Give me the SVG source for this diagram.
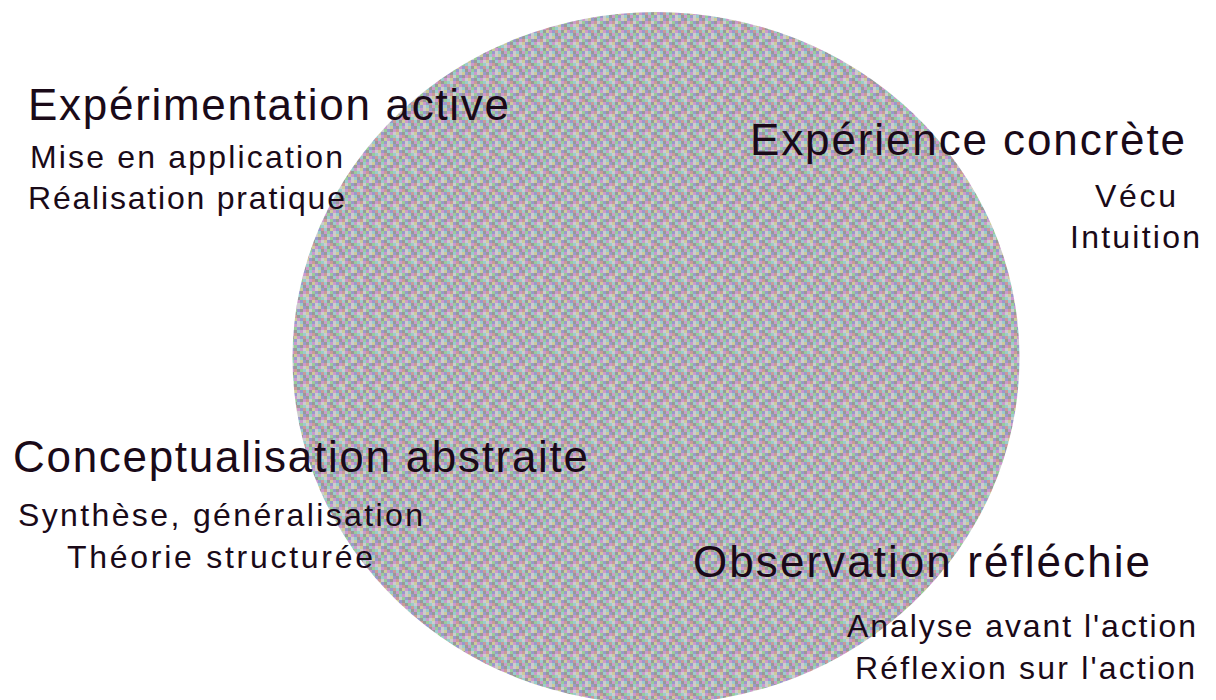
<svg xmlns="http://www.w3.org/2000/svg" width="1216" height="700" viewBox="0 0 1216 700">
<style>
.t{font-family:"Liberation Sans",Arial,sans-serif;fill:#1a0a18;}
.h{font-size:44px;}
.s{font-size:32px;}
</style>
<defs>
<pattern id="dither" width="18" height="18" patternUnits="userSpaceOnUse">
<rect width="18" height="18" fill="#b0b0b0"/>
<rect x="0" y="0" width="3" height="3" fill="#999999"/><rect x="3" y="0" width="3" height="3" fill="#99cccc"/><rect x="6" y="0" width="3" height="3" fill="#cc99cc"/><rect x="9" y="0" width="3" height="3" fill="#cccccc"/><rect x="12" y="0" width="3" height="3" fill="#cccc99"/><rect x="15" y="0" width="3" height="3" fill="#9999cc"/>
<rect x="0" y="3" width="3" height="3" fill="#cc9999"/><rect x="3" y="3" width="3" height="3" fill="#cccccc"/><rect x="6" y="3" width="3" height="3" fill="#99cc99"/><rect x="9" y="3" width="3" height="3" fill="#9999cc"/><rect x="12" y="3" width="3" height="3" fill="#999999"/><rect x="15" y="3" width="3" height="3" fill="#cc99cc"/>
<rect x="0" y="6" width="3" height="3" fill="#cccc99"/><rect x="3" y="6" width="3" height="3" fill="#9999cc"/><rect x="6" y="6" width="3" height="3" fill="#999999"/><rect x="9" y="6" width="3" height="3" fill="#99cccc"/><rect x="12" y="6" width="3" height="3" fill="#cc99cc"/><rect x="15" y="6" width="3" height="3" fill="#cccccc"/>
<rect x="0" y="9" width="3" height="3" fill="#cccccc"/><rect x="3" y="9" width="3" height="3" fill="#cc99cc"/><rect x="6" y="9" width="3" height="3" fill="#cc9999"/><rect x="9" y="9" width="3" height="3" fill="#999999"/><rect x="12" y="9" width="3" height="3" fill="#99cc99"/><rect x="15" y="9" width="3" height="3" fill="#99cccc"/>
<rect x="0" y="12" width="3" height="3" fill="#99cccc"/><rect x="3" y="12" width="3" height="3" fill="#999999"/><rect x="6" y="12" width="3" height="3" fill="#cccc99"/><rect x="9" y="12" width="3" height="3" fill="#cc99cc"/><rect x="12" y="12" width="3" height="3" fill="#9999cc"/><rect x="15" y="12" width="3" height="3" fill="#cc9999"/>
<rect x="0" y="15" width="3" height="3" fill="#cc99cc"/><rect x="3" y="15" width="3" height="3" fill="#99cc99"/><rect x="6" y="15" width="3" height="3" fill="#9999cc"/><rect x="9" y="15" width="3" height="3" fill="#cccccc"/><rect x="12" y="15" width="3" height="3" fill="#99cccc"/><rect x="15" y="15" width="3" height="3" fill="#999999"/>
</pattern>
</defs>
<rect width="1216" height="700" fill="#ffffff"/>
<g id="cycle">
<ellipse cx="656" cy="358" rx="363.5" ry="346" fill="url(#dither)"/>
</g>
<g id="connectors"></g>
<g id="experimentation-active">
<text class="t h" x="28" y="120" textLength="481" lengthAdjust="spacing">Expérimentation active</text>
<text class="t s" x="30" y="168" textLength="313" lengthAdjust="spacing">Mise en application</text>
<text class="t s" x="28" y="209" textLength="317" lengthAdjust="spacing">Réalisation pratique</text>
</g>
<g id="experience-concrete">
<text class="t h" x="750" y="155" textLength="435" lengthAdjust="spacing">Expérience concrète</text>
<text class="t s" x="1095" y="207" textLength="81" lengthAdjust="spacing">Vécu</text>
<text class="t s" x="1070" y="248" textLength="130" lengthAdjust="spacing">Intuition</text>
</g>
<g id="conceptualisation-abstraite">
<text class="t h" x="13" y="472" textLength="575" lengthAdjust="spacing">Conceptualisation abstraite</text>
<text class="t s" x="18" y="526" textLength="405" lengthAdjust="spacing">Synthèse, généralisation</text>
<text class="t s" x="67" y="568" textLength="306" lengthAdjust="spacing">Théorie structurée</text>
</g>
<g id="observation-reflechie">
<text class="t h" x="693" y="577" textLength="457" lengthAdjust="spacing">Observation réfléchie</text>
<text class="t s" x="847" y="637" textLength="349" lengthAdjust="spacing">Analyse avant l'action</text>
<text class="t s" x="855" y="679" textLength="340" lengthAdjust="spacing">Réflexion sur l'action</text>
</g>
</svg>
